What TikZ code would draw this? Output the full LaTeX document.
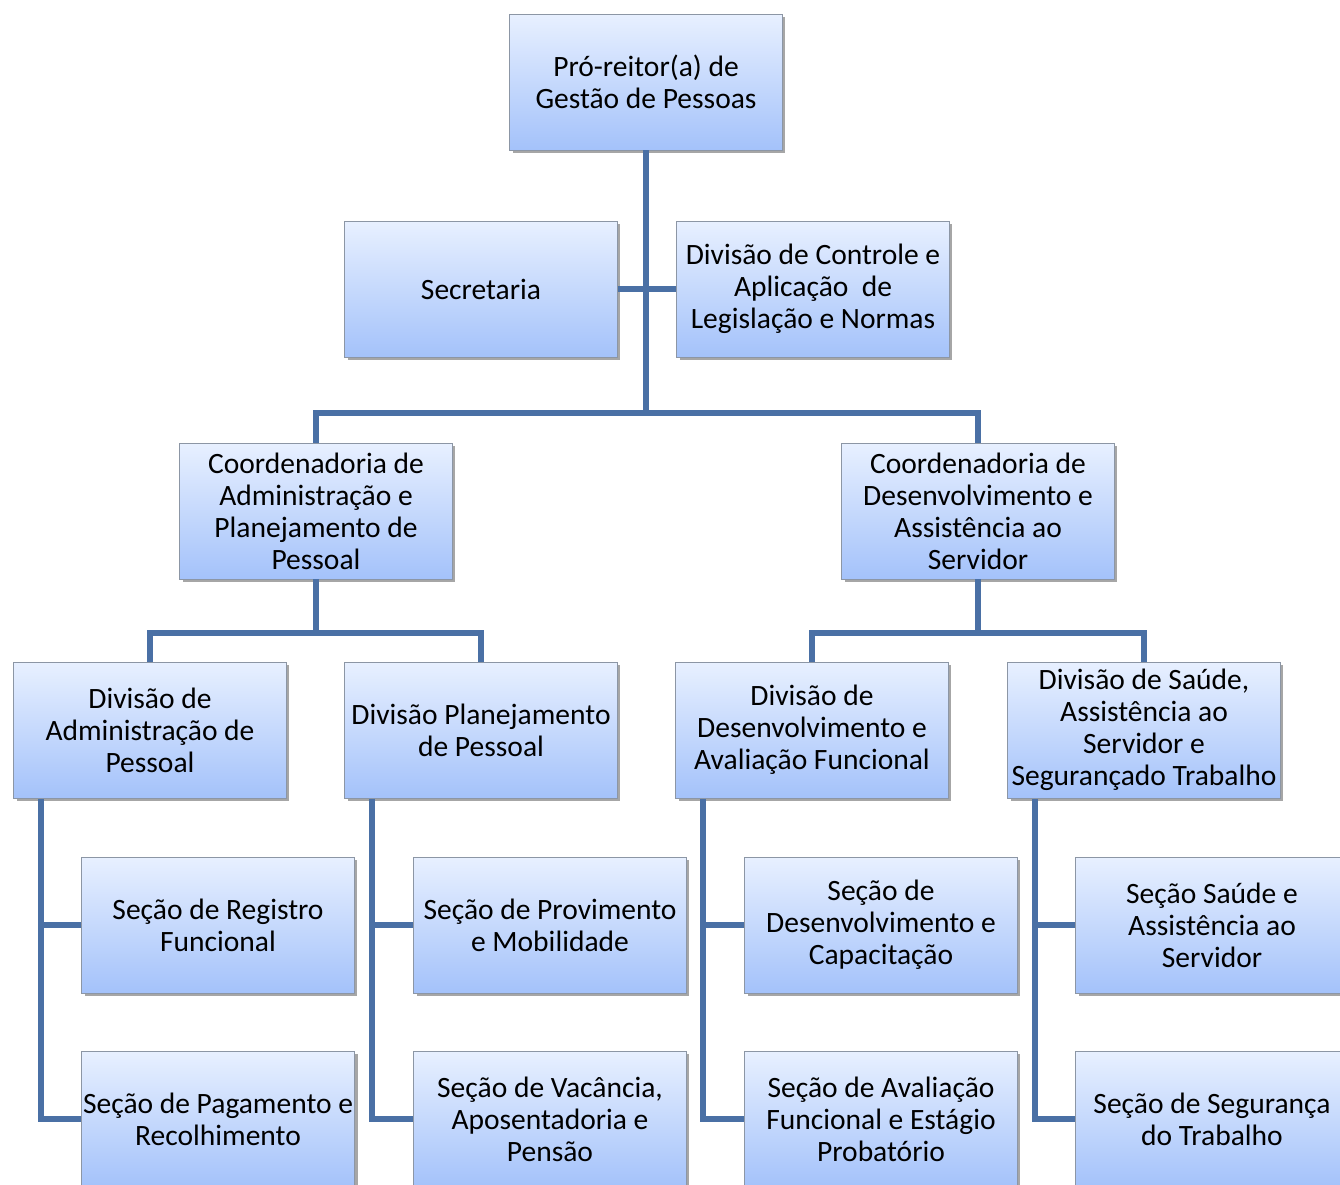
\documentclass[tikz,border=0pt]{standalone}
\usepackage{fontspec}
\setmainfont{Carlito}
\usetikzlibrary{positioning, shadows}
\definecolor{boxtop}{RGB}{232,240,255}
\definecolor{boxbot}{RGB}{164,194,250}
\definecolor{boxline}{RGB}{140,150,165}
\definecolor{linkblue}{RGB}{74,112,165}
\tikzstyle{unit}=[rectangle, minimum width=5.46cm, minimum height=2.72cm, draw=boxline, thin,
  top color=boxtop, bottom color=boxbot, align=center, inner sep=1pt,
  font=\fontsize{16.8}{18.2}\selectfont,
  drop shadow={shadow xshift=0.6mm, shadow yshift=-0.6mm, opacity=0.35, fill=black}]
\tikzstyle{link}=[draw=linkblue, line width=2.9pt]

\begin{document}
\begin{tikzpicture}[x=0.02cm, y=-0.02cm]
            \fill[white] (0,0) rectangle (1340,1185);
            \clip (0,0) rectangle (1340,1185);
            %Top and staff
            \node[unit](pro) at (646,82){Pró-reitor(a) de\\Gestão de Pessoas};
            \node[unit](sec) at (481,289){Secretaria};
            \node[unit](ctrl) at (813,289){Divisão de Controle e\\Aplicação~ de\\Legislação e Normas};
            \coordinate (bus) at (646,413);
            \draw[link] (pro) -- (bus);
            \draw[link] (sec.east) -- (ctrl.west);

            %Coordinations
            \node[unit](cadm) at (316,511){Coordenadoria de\\Administração e\\Planejamento de\\Pessoal};
            \node[unit](cdes) at (978,511){Coordenadoria de\\Desenvolvimento e\\Assistência ao\\Servidor};
            \draw[link] (cadm.north) |- (bus) -| (cdes.north);

            %Divisions
            \node[unit](d1) at (150,730){Divisão de\\Administração de\\Pessoal};
            \node[unit](d2) at (481,730){Divisão Planejamento\\de Pessoal};
            \node[unit](d3) at (812,730){Divisão de\\Desenvolvimento e\\Avaliação Funcional};
            \node[unit](d4) at (1144,730){Divisão de Saúde,\\Assistência ao\\Servidor e\\Segurançado Trabalho};
            \coordinate (busadm) at (316,633);
            \coordinate (busdes) at (978,633);
            \draw[link] (cadm) -- (busadm);
            \draw[link] (cdes) -- (busdes);
            \draw[link] (d1.north) |- (busadm) -| (d2.north);
            \draw[link] (d3.north) |- (busdes) -| (d4.north);

            %Sections
            \node[unit](s1a) at (218,925){Seção de Registro\\Funcional};
            \node[unit](s1b) at (218,1119){Seção de Pagamento e\\Recolhimento};
            \node[unit](s2a) at (550,925){Seção de Provimento\\e Mobilidade};
            \node[unit](s2b) at (550,1119){Seção de Vacância,\\Aposentadoria e\\Pensão};
            \node[unit](s3a) at (881,925){Seção de\\Desenvolvimento e\\Capacitação};
            \node[unit](s3b) at (881,1119){Seção de Avaliação\\Funcional e Estágio\\Probatório};
            \node[unit](s4a) at (1212,925){Seção Saúde e\\Assistência ao\\Servidor};
            \node[unit](s4b) at (1212,1119){Seção de Segurança\\do Trabalho};

            \foreach \n/\x in {1/41, 2/372, 3/703, 4/1035}{
                \coordinate (trunk\n) at (\x,799);
                \draw[link] (trunk\n) |- (s\n b.west);
                \draw[link] (s\n a.west) -- (s\n a.west -| trunk\n);
            }
\end{tikzpicture}
\end{document}
